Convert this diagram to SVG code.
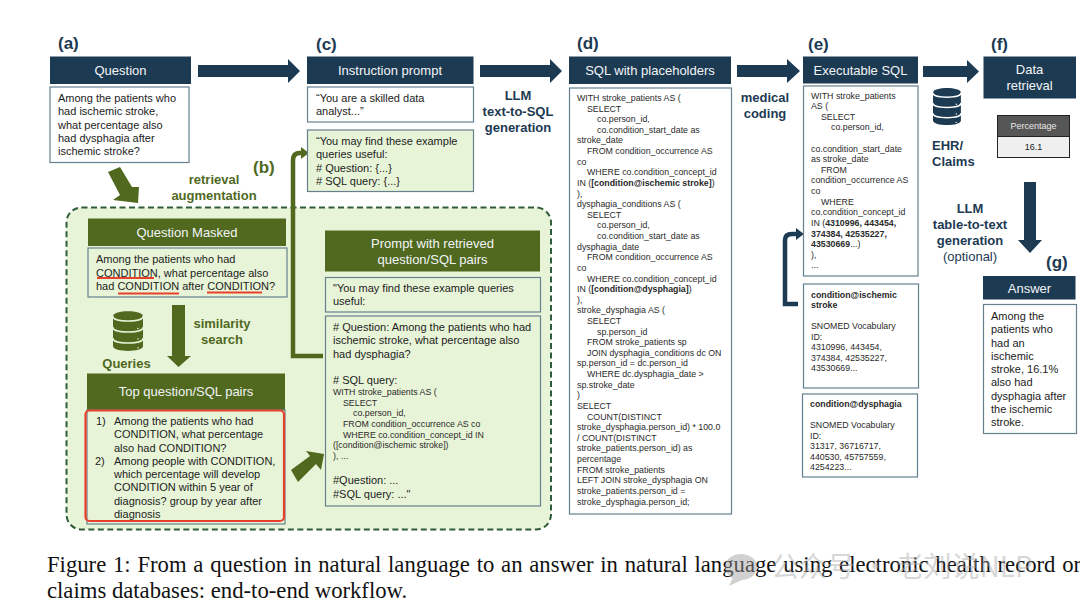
<svg xmlns="http://www.w3.org/2000/svg" width="1080" height="612" viewBox="0 0 1080 612">
<style>
text{font-family:"Liberation Sans",Arial,sans-serif;fill:#1c1c1c}
.t{font-size:11px}
.s{font-size:8.8px;fill:#2a2a2a}
.b{font-weight:bold}
.h{font-size:13px;fill:#f2f5f7;text-anchor:middle}
.nh{fill:#1d3a53}
.gh{fill:#50691f}
.box{fill:#fff;stroke:#66808f;stroke-width:1.2}
.gbox{fill:#e8f4d8;stroke:#66808f;stroke-width:1.2}
.tag{font-size:17px;font-weight:bold}
.nl{font-size:13px;font-weight:bold;fill:#1d3a53;text-anchor:middle}
.gl{font-size:13px;font-weight:bold;fill:#50691f;text-anchor:middle}
.tag.n{fill:#1d3a53}
.tag.g{fill:#50691f}
.na{fill:#1d3a53}
.ga{fill:#50691f}
.nline{fill:none;stroke:#1d3a53;stroke-width:4.5}
.gline{fill:none;stroke:#50691f;stroke-width:4.5}
.ul{stroke:#e8402a;stroke-width:2;fill:none}
.cap{font-family:"Liberation Serif","Times New Roman",serif;font-size:22.7px;fill:#111}
</style>
<defs>
<path id="db-body" d="M0 5C0-1.500 30-1.500 30 5V35C30 41.500 0 41.500 0 35Z"/>
<path id="db-lines" d="M0 5.500C0 11.500 30 11.500 30 5.500M0 16.500C0 22.500 30 22.500 30 16.500M0 27.500C0 33.500 30 33.500 30 27.500M25 17.500v0M25 28v0M25 37v0" fill="none" stroke-linecap="round" stroke-width="1.500"/>
<marker id="gtip" markerWidth="4" markerHeight="4" refX="0.500" refY="2" orient="auto"><path d="M0 0.600L1.800 2L0 3.400Z" fill="#50691f"/></marker>
<marker id="ntip" markerWidth="4" markerHeight="4" refX="0.500" refY="2" orient="auto"><path d="M0 0.600L1.800 2L0 3.400Z" fill="#1d3a53"/></marker>
</defs>

<g id="retrieval-panel">
<rect x="66.500" y="207.500" width="484.500" height="322" rx="15" fill="#e8f4d8" stroke="#2f5c3a" stroke-width="2" stroke-dasharray="6 3.500"/>
</g>

<g id="labels">
<text class="tag n" x="58" y="49">(a)</text>
<text class="tag g" x="253" y="173">(b)</text>
<text class="tag n" x="316" y="50">(c)</text>
<text class="tag n" x="577" y="49">(d)</text>
<text class="tag n" x="808" y="50">(e)</text>
<text class="tag n" x="991" y="50">(f)</text>
<text class="tag n" x="1046" y="268">(g)</text>
<text class="gl" x="214" y="184">retrieval</text>
<text class="gl" x="214" y="200">augmentation</text>
<text class="nl" x="518" y="100">LLM</text>
<text class="nl" x="518" y="116">text-to-SQL</text>
<text class="nl" x="518" y="132">generation</text>
<text class="nl" x="765" y="102">medical</text>
<text class="nl" x="765" y="118">coding</text>
<text class="nl" x="932" y="150" style="text-anchor:start">EHR/</text>
<text class="nl" x="932" y="166" style="text-anchor:start">Claims</text>
<text class="nl" x="970" y="213">LLM</text>
<text class="nl" x="970" y="229">table-to-text</text>
<text class="nl" x="970" y="245">generation</text>
<text class="nl" x="970" y="261" style="font-weight:normal">(optional)</text>
<text class="gl" x="222" y="328">similarity</text>
<text class="gl" x="222" y="344">search</text>
<text class="gl" x="126.500" y="368">Queries</text>
</g>

<g id="connectors">
<path class="na" d="M198 65H288V59L300 71L288 83V77H198Z"/>
<path class="na" d="M480 65H550V59L562 71L550 83V77H480Z"/>
<path class="na" d="M737 65H787V59L800 71L787 83V77H737Z"/>
<path class="na" d="M923 66H967V60L979 71.500L967 83V77H923Z"/>
<path class="na" d="M1024 182H1036V240H1042L1030 253L1018 240H1024Z"/>
<path class="ga" d="M108 172L120 167L132 187L139 187L138 203L113 200L120 195Z"/>
<path class="ga" d="M172 305H185V356H191L178.500 367L167 356H172Z"/>
<path class="ga" d="M291 470L310 456L306 451L324 454L321 470L316 464L298 482Z"/>
<path class="gline" d="M323 356H293V160Q293 153 300 153H303" marker-end="url(#gtip)"/>
<path class="nline" d="M798 304H785V240Q785 234 792 234H798" marker-end="url(#ntip)"/>
</g>

<g id="db-ehr" class="db" transform="translate(933 88) scale(0.93)">
<use href="#db-body" class="na"/><use href="#db-lines" stroke="#fff"/>
</g>
<g id="db-queries" transform="translate(113 311)">
<use href="#db-body" class="ga"/><use href="#db-lines" stroke="#e8f4d8"/>
</g>

<g id="question">
<rect class="nh" x="50" y="56.500" width="141" height="27.500"/>
<text class="h" x="120.500" y="75">Question</text>
<rect class="box" x="50" y="87" width="139" height="75.500"/>
<text class="t" x="58" y="102">Among the patients who</text>
<text class="t" x="58" y="115.300">had ischemic stroke,</text>
<text class="t" x="58" y="128.600">what percentage also</text>
<text class="t" x="58" y="141.900">had dysphagia after</text>
<text class="t" x="58" y="155.200">ischemic stroke?</text>
</g>

<g id="question-masked">
<rect class="gh" x="88" y="218.500" width="198" height="27.500"/>
<text class="h" x="187" y="237">Question Masked</text>
<rect class="gbox" x="88" y="248" width="199" height="49"/>
<text class="t" x="96" y="263">Among the patients who had</text>
<text class="t" x="96" y="276.500">CONDITION, what percentage also</text>
<text class="t" x="96" y="290">had CONDITION after CONDITION?</text>
<path class="ul" d="M97 278H154M118 293.500H179M207 292.500H262"/>
</g>

<g id="top-pairs">
<rect class="gh" x="87" y="373.500" width="198" height="37"/>
<text class="h" x="186" y="396">Top question/SQL pairs</text>
<rect class="gbox" x="87" y="410" width="198" height="114"/>
<text class="t" x="96" y="425">1)</text>
<text class="t" x="114" y="425">Among the patients who had</text>
<text class="t" x="114" y="438.300">CONDITION, what percentage</text>
<text class="t" x="114" y="451.500">also had CONDITION?</text>
<text class="t" x="95" y="464.800">2)</text>
<text class="t" x="114" y="464.800">Among people with CONDITION,</text>
<text class="t" x="114" y="478">which percentage will develop</text>
<text class="t" x="114" y="491.300">CONDITION within 5 year of</text>
<text class="t" x="114" y="504.500">diagnosis? group by year after</text>
<text class="t" x="114" y="517.800">diagnosis</text>
<rect x="85.500" y="410.500" width="198.500" height="110.500" rx="4" fill="none" stroke="#e8402a" stroke-width="2.200"/>
</g>

<g id="instruction-prompt">
<rect class="nh" x="307" y="56.500" width="166.500" height="27.500"/>
<text class="h" x="390" y="75">Instruction prompt</text>
<rect class="box" x="307.500" y="87" width="166" height="35"/>
<text class="t" x="316" y="102">“You are a skilled data</text>
<text class="t" x="316" y="115">analyst...”</text>
<rect class="gbox" x="307.500" y="130" width="166" height="61.500"/>
<text class="t" x="316" y="145">“You may find these example</text>
<text class="t" x="316" y="158.300">queries useful:</text>
<text class="t" x="316" y="171.600"># Question: {...}</text>
<text class="t" x="316" y="185"># SQL query: {...}</text>
</g>

<g id="prompt-retrieved">
<rect class="gh" x="325" y="230.500" width="215" height="41"/>
<text class="h" x="432.500" y="248">Prompt with retrieved</text>
<text class="h" x="432.500" y="264">question/SQL pairs</text>
<rect class="gbox" x="325.500" y="277.500" width="215" height="34.500"/>
<text class="t" x="333" y="292">"You may find these example queries</text>
<text class="t" x="333" y="305.300">useful:</text>
<rect class="gbox" x="325.500" y="316" width="215" height="190"/>
<text class="t" x="333" y="331"># Question: Among the patients who had</text>
<text class="t" x="333" y="344.300">ischemic stroke, what percentage also</text>
<text class="t" x="333" y="357.600">had dysphagia?</text>
<text class="t" x="333" y="384"># SQL query:</text>
<text class="s" x="333" y="395">WITH stroke_patients AS (</text>
<text class="s" x="343" y="405.600">SELECT</text>
<text class="s" x="353" y="416.300">co.person_id,</text>
<text class="s" x="343" y="426.900">FROM condition_occurrence AS co</text>
<text class="s" x="343" y="437.500">WHERE co.condition_concept_id IN</text>
<text class="s" x="333" y="448.200">([condition@ischemic stroke])</text>
<text class="s" x="333" y="458.800">), ...</text>
<text class="t" x="333" y="484">#Question: ...</text>
<text class="t" x="333" y="497.500">#SQL query: ..."</text>
</g>

<g id="sql-placeholders">
<rect class="nh" x="569" y="56.500" width="162" height="27.500"/>
<text class="h" x="650" y="75">SQL with placeholders</text>
<rect class="box" x="569.500" y="88" width="162" height="426"/>
<text class="s" y="101">
<tspan x="577">WITH stroke_patients AS (</tspan>
<tspan x="587" dy="10.620">SELECT</tspan>
<tspan x="597" dy="10.620">co.person_id,</tspan>
<tspan x="597" dy="10.620">co.condition_start_date as</tspan>
<tspan x="577" dy="10.620">stroke_date</tspan>
<tspan x="587" dy="10.620">FROM condition_occurrence AS</tspan>
<tspan x="577" dy="10.620">co</tspan>
<tspan x="587" dy="10.620">WHERE co.condition_concept_id</tspan>
<tspan x="577" dy="10.620">IN (<tspan class="b">[condition@ischemic stroke]</tspan>)</tspan>
<tspan x="577" dy="10.620">),</tspan>
<tspan x="577" dy="10.620">dysphagia_conditions AS (</tspan>
<tspan x="587" dy="10.620">SELECT</tspan>
<tspan x="597" dy="10.620">co.person_id,</tspan>
<tspan x="597" dy="10.620">co.condition_start_date as</tspan>
<tspan x="577" dy="10.620">dysphagia_date</tspan>
<tspan x="587" dy="10.620">FROM condition_occurrence AS</tspan>
<tspan x="577" dy="10.620">co</tspan>
<tspan x="587" dy="10.620">WHERE co.condition_concept_id</tspan>
<tspan x="577" dy="10.620">IN (<tspan class="b">[condition@dysphagia]</tspan>)</tspan>
<tspan x="577" dy="10.620">),</tspan>
<tspan x="577" dy="10.620">stroke_dysphagia AS (</tspan>
<tspan x="587" dy="10.620">SELECT</tspan>
<tspan x="597" dy="10.620">sp.person_id</tspan>
<tspan x="587" dy="10.620">FROM stroke_patients sp</tspan>
<tspan x="587" dy="10.620">JOIN dysphagia_conditions dc ON</tspan>
<tspan x="577" dy="10.620">sp.person_id = dc.person_id</tspan>
<tspan x="587" dy="10.620">WHERE dc.dysphagia_date &gt;</tspan>
<tspan x="577" dy="10.620">sp.stroke_date</tspan>
<tspan x="577" dy="10.620">)</tspan>
<tspan x="577" dy="10.620">SELECT</tspan>
<tspan x="587" dy="10.620">COUNT(DISTINCT</tspan>
<tspan x="577" dy="10.620">stroke_dysphagia.person_id) * 100.0</tspan>
<tspan x="577" dy="10.620">/ COUNT(DISTINCT</tspan>
<tspan x="577" dy="10.620">stroke_patients.person_id) as</tspan>
<tspan x="577" dy="10.620">percentage</tspan>
<tspan x="577" dy="10.620">FROM stroke_patients</tspan>
<tspan x="577" dy="10.620">LEFT JOIN stroke_dysphagia ON</tspan>
<tspan x="577" dy="10.620">stroke_patients.person_id =</tspan>
<tspan x="577" dy="10.620">stroke_dysphagia.person_id;</tspan>
</text>
</g>

<g id="executable-sql">
<rect class="nh" x="803" y="56.500" width="115" height="27"/>
<text class="h" x="860.500" y="75">Executable SQL</text>
<rect class="box" x="803.500" y="86" width="114.500" height="190"/>
<text class="s" y="98.500">
<tspan x="811">WITH stroke_patients</tspan>
<tspan x="811" dy="10.620">AS (</tspan>
<tspan x="821" dy="10.620">SELECT</tspan>
<tspan x="831" dy="10.620">co.person_id,</tspan>
<tspan x="811" dy="21.240">co.condition_start_date</tspan>
<tspan x="811" dy="10.620">as stroke_date</tspan>
<tspan x="821" dy="10.620">FROM</tspan>
<tspan x="811" dy="10.620">condition_occurrence AS</tspan>
<tspan x="811" dy="10.620">co</tspan>
<tspan x="821" dy="10.620">WHERE</tspan>
<tspan x="811" dy="10.620">co.condition_concept_id</tspan>
<tspan x="811" dy="10.620">IN (<tspan class="b">4310996, 443454,</tspan></tspan>
<tspan x="811" dy="10.620" class="b">374384, 42535227,</tspan>
<tspan x="811" dy="10.620"><tspan class="b">43530669</tspan>...)</tspan>
<tspan x="811" dy="10.620">),</tspan>
<tspan x="811" dy="10.620">...</tspan>
</text>
</g>

<g id="condition-ischemic">
<rect class="box" x="803.500" y="284" width="115" height="104"/>
<text class="s b" x="811" y="297.500">condition@ischemic</text>
<text class="s b" x="811" y="308">stroke</text>
<text class="s" x="811" y="329">SNOMED Vocabulary</text>
<text class="s" x="811" y="339.600">ID:</text>
<text class="s" x="811" y="350.200">4310996, 443454,</text>
<text class="s" x="811" y="360.800">374384, 42535227,</text>
<text class="s" x="811" y="371.400">43530669...</text>
</g>

<g id="condition-dysphagia">
<rect class="box" x="802.500" y="394" width="115" height="83"/>
<text class="s b" x="810" y="406.500">condition@dysphagia</text>
<text class="s" x="810" y="428">SNOMED Vocabulary</text>
<text class="s" x="810" y="438.600">ID:</text>
<text class="s" x="810" y="449.200">31317, 36716717,</text>
<text class="s" x="810" y="459.800">440530, 45757559,</text>
<text class="s" x="810" y="470.400">4254223...</text>
</g>

<g id="data-retrieval">
<rect class="nh" x="983.500" y="56.500" width="92.500" height="42"/>
<text class="h" x="1029.500" y="74">Data</text>
<text class="h" x="1029.500" y="90">retrieval</text>
</g>

<g id="result-table">
<rect x="997.500" y="115.500" width="72" height="21" fill="#565656" stroke="#222" stroke-width="1"/>
<rect x="997.500" y="136.500" width="72" height="21" fill="#efefef" stroke="#222" stroke-width="1"/>
<text x="1033.500" y="128.500" font-size="9" text-anchor="middle" style="fill:#e8e8e8">Percentage</text>
<text x="1033.500" y="149.500" font-size="9" text-anchor="middle">16.1</text>
</g>

<g id="answer">
<rect class="nh" x="983" y="276" width="92.500" height="23.500"/>
<text class="h" x="1029.500" y="293">Answer</text>
<rect class="box" x="983.500" y="304.500" width="93" height="129"/>
<text class="t" x="991" y="320">Among the</text>
<text class="t" x="991" y="333.300">patients who</text>
<text class="t" x="991" y="346.500">had an</text>
<text class="t" x="991" y="359.800">ischemic</text>
<text class="t" x="991" y="373">stroke, 16.1%</text>
<text class="t" x="991" y="386.300">also had</text>
<text class="t" x="991" y="399.500">dysphagia after</text>
<text class="t" x="991" y="412.800">the ischemic</text>
<text class="t" x="991" y="426">stroke.</text>
</g>

<g id="caption">
<text class="cap" x="47" y="572" word-spacing="1.1">Figure 1: From a question in natural language to an answer in natural language using electronic health record or</text>
<text class="cap" x="47" y="598">claims databases: end-to-end workflow.</text>
</g>

<g id="watermark" opacity="0.45">
<ellipse cx="741" cy="567" rx="16" ry="13" fill="#9a9a9a"/>
<path d="M733 577L729 586L744 579Z" fill="#9a9a9a"/>
<text x="771" y="577" font-size="28" style="font-family:'Noto Sans CJK SC','Liberation Sans',sans-serif;fill:#a8a8a8">公众号 · 老刘说NLP</text>
</g>
</svg>
